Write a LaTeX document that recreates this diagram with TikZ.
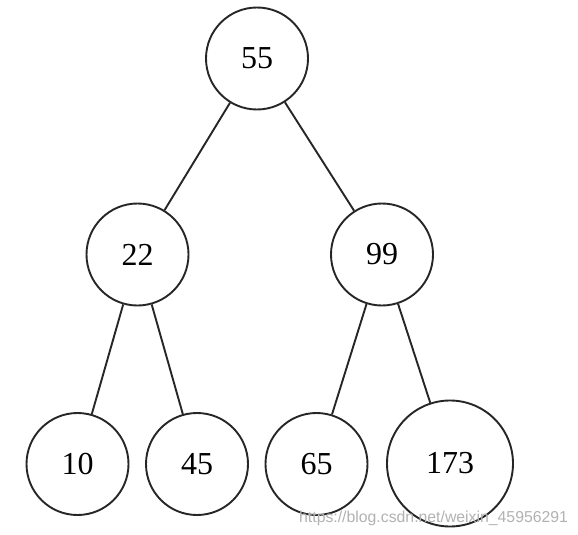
\documentclass[tikz,border=0pt]{standalone}
\usepackage{fontspec}
\setmainfont{Liberation Serif}
\newfontfamily\wmfont{Liberation Sans}
\begin{document}
\begin{tikzpicture}[x=1pt,y=-1pt,
  treenode/.style={circle,draw=black!85,line width=1.9pt,inner sep=0pt,minimum size=102pt,font=\fontsize{32}{32}\selectfont},
  bignode/.style={treenode,minimum size=126pt},
  edge/.style={draw=black!85,line width=1.9pt},
  watermark/.style={font=\wmfont\fontsize{15.8}{16}\selectfont,text=black!30,inner sep=0pt,anchor=west}]
\useasboundingbox[fill=white] (0,0) rectangle (578,535);
\node[treenode] (n55) at (257,58.5) {55};
\node[treenode] (n22) at (137.5,254.5) {22};
\node[treenode] (n99) at (382,254.5) {99};
\node[treenode] (n10) at (77.5,464) {10};
\node[treenode] (n45) at (197,464) {45};
\node[treenode] (n65) at (316.5,464) {65};
\node[bignode] (n173) at (450,463.5) {173};
\draw[edge] (n55) -- (n22);
\draw[edge] (n55) -- (n99);
\draw[edge] (n22) -- (n10);
\draw[edge] (n22) -- (n45);
\draw[edge] (n99) -- (n65);
\draw[edge] (n99) -- (n173);
\node[watermark] (wm) at (299,518) {https://blog.csdn.net/weixin\_45956291};
\end{tikzpicture}
\end{document}
